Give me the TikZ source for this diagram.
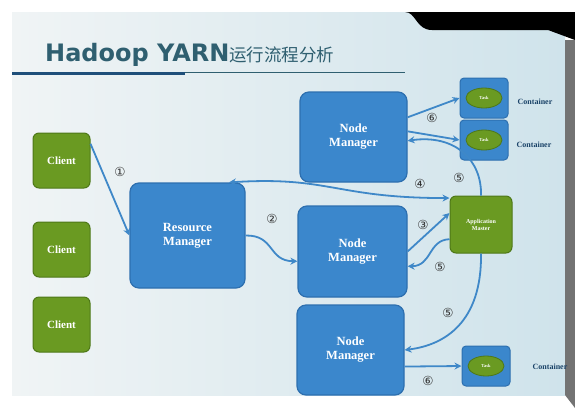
\documentclass[tikz,border=0pt]{standalone}
\usepackage{fontspec}
\setmainfont{Liberation Serif}
\newfontfamily\cjk{Noto Sans CJK SC}
\newfontfamily\headfont{DejaVu Sans}
\usetikzlibrary{arrows.meta, shapes.geometric}

\definecolor{nmblue}{HTML}{3B87CC}
\definecolor{nmedge}{HTML}{2D6FAF}
\definecolor{clgreen}{HTML}{6A9A22}
\definecolor{cledge}{HTML}{4E7818}
\definecolor{flow}{HTML}{3F88C8}
\definecolor{headteal}{HTML}{2F5F70}
\definecolor{rulenavy}{HTML}{1F4F7A}
\definecolor{slidelt}{HTML}{F0F4F5}
\definecolor{slidedk}{HTML}{CFE3EB}

\tikzset{
  mgr/.style={draw=nmedge, line width=1.2pt, fill=nmblue, rounded corners=9pt,
    text=white, font=\bfseries\fontsize{12.5}{14}\selectfont, align=center, inner sep=0pt},
  clientbox/.style={draw=cledge, line width=1pt, fill=clgreen, rounded corners=6pt,
    text=white, font=\bfseries\fontsize{11}{12}\selectfont, align=center,
    minimum width=57pt, minimum height=55pt, inner sep=0pt},
  taskbox/.style={draw=nmedge, line width=1pt, fill=nmblue, rounded corners=4pt,
    minimum width=48pt, minimum height=40pt},
  taskblob/.style={ellipse, draw=cledge, line width=0.8pt, fill=clgreen, text=white,
    font=\bfseries\fontsize{4.5}{5}\selectfont, minimum width=36pt, minimum height=20pt, inner sep=0pt},
  boxname/.style={text=rulenavy!85!black, font=\bfseries\fontsize{8}{9}\selectfont},
  flowline/.style={draw=flow, line width=1.8pt, -{Stealth[length=7pt,width=7pt]}},
  stepnum/.style={font=\headfont\fontsize{12.5}{12}\selectfont, text=black!80, inner sep=0pt}
}

\begin{document}
\begin{tikzpicture}[x=1pt, y=-1pt]
        \useasboundingbox (0,0) rectangle (575,408);

        % slide background
        \fill[white] (0,0) rectangle (575,408);
        \fill[left color=slidelt, right color=slidedk] (12,12) rectangle (565,395);
        \fill[black] (405,12) .. controls (416,12) and (416,30) .. (432,30) -- (548,30) -- (575,40) -- (575,12) -- cycle;
        \fill[black!55] (565,40) -- (575,40) -- (575,408) -- (565,395) -- cycle;

        % title
        \node[anchor=west, inner sep=0pt, text=headteal] (title) at (45,55)
            {\headfont\bfseries\fontsize{24}{26}\selectfont Hadoop YARN\cjk\mdseries\fontsize{17.5}{20}\selectfont 运行流程分析};
        \draw[rulenavy, line width=3pt] (12,73) -- (185,73);
        \draw[headteal, line width=0.8pt] (185,72) -- (405,72);

        % clients
        \node[clientbox] (client1) at (61.5,160.5) {Client};
        \node[clientbox] (client2) at (61.5,249.5) {Client};
        \node[clientbox] (client3) at (61.5,324.5) {Client};

        % managers
        \node[mgr, minimum width=115pt, minimum height=105pt] (rm) at (187.5,235.5) {Resource\\Manager};
        \node[mgr, minimum width=107pt, minimum height=90pt] (nm1) at (353.5,137) {Node\\Manager};
        \node[mgr, minimum width=109pt, minimum height=91pt] (nm2) at (352.5,251.5) {Node\\Manager};
        \node[mgr, minimum width=107pt, minimum height=90pt] (nm3) at (350.5,350) {Node\\Manager};

        \node[clientbox, minimum width=62pt, minimum height=57pt,
              font=\bfseries\fontsize{6}{7}\selectfont] (am) at (481,224.5) {Application\\Master};

        % containers
        \node[taskbox] (box1) at (484,98) {};
        \node[taskblob] (task1) at (box1) {Task};
        \node[boxname] (cname1) at (535,102) {Container};
        \node[taskbox] (box2) at (484,140) {};
        \node[taskblob] (task2) at (box2) {Task};
        \node[boxname] (cname2) at (534,145) {Container};
        \node[taskbox] (box3) at (486,366) {};
        \node[taskblob] (task3) at (box3) {Task};
        \node[boxname] (cname3) at (550,367) {Container};

        % flow
        \draw[flowline] (client1.30) -- (rm.west);
        \draw[flowline] (rm.east) .. controls (275,235) and (268,261) .. (nm2.190);
        \draw[flowline] (nm2.east) -- (am.160);
        \draw[flowline, {Stealth[length=7pt,width=7pt]}-{Stealth[length=7pt,width=7pt]}]
            (rm.52) .. controls (330,176) and (335,198) .. (am.140);
        \draw[flowline] (am.north) .. controls (482,160) and (455,134) .. (nm1.-4);
        \draw[flowline] (am.205) .. controls (428,240) and (432,266) .. (nm2.-15);
        \draw[flowline] (am.south) .. controls (482,322) and (445,345) .. (nm3.east);
        \draw[flowline] (nm1.20) -- (box1.west);
        \draw[flowline] (nm1.6) -- (box2.west);
        \draw[flowline] (nm3.-17) -- (box3.west);

        % step numbers
        \node[stepnum] (s1) at (120,172) {①};
        \node[stepnum] (s2) at (272,219) {②};
        \node[stepnum] (s3) at (423,225) {③};
        \node[stepnum] (s4) at (420,184) {④};
        \node[stepnum] (s5a) at (459,178) {⑤};
        \node[stepnum] (s5b) at (440,267) {⑤};
        \node[stepnum] (s5c) at (448,313) {⑤};
        \node[stepnum] (s6a) at (432,118) {⑥};
        \node[stepnum] (s6b) at (428,381) {⑥};

    \end{tikzpicture}
\end{document}
